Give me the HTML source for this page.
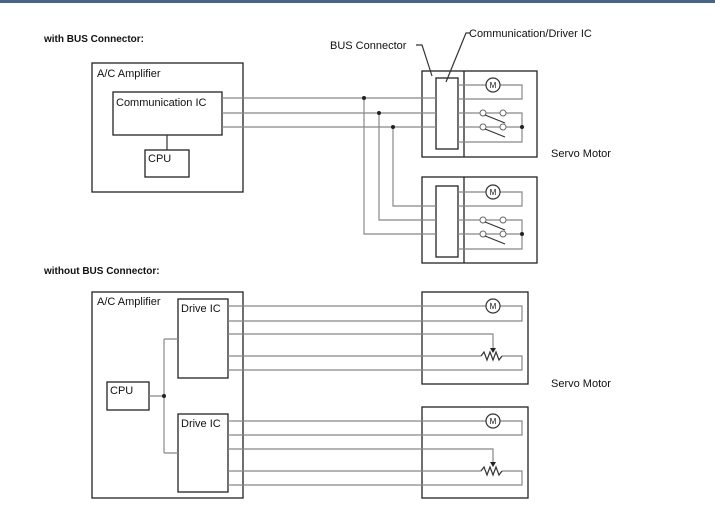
<!DOCTYPE html>
<html><head><meta charset="utf-8"><style>
body{margin:0;background:#fff;width:715px;height:519px;overflow:hidden}
svg{display:block}
text{font-family:"Liberation Sans",sans-serif;font-size:11px;fill:#111}
</style></head><body>
<svg width="715" height="519" viewBox="0 0 715 519">
<rect x="0" y="0" width="715" height="3" fill="#4d6481"/>
<text x="44" y="42" font-weight="bold" style="font-size:10px">with BUS Connector:</text>
<text x="44" y="274" font-weight="bold" style="font-size:10px">without BUS Connector:</text>
<g fill="none" stroke="#222" stroke-width="1.3">
<rect x="92" y="63" width="151" height="129"/>
<rect x="113" y="92" width="109" height="43"/>
<rect x="145" y="150" width="44" height="27"/>
<rect x="422" y="71" width="115" height="86"/>
<line x1="464" y1="71" x2="464" y2="157"/>
<rect x="436" y="78" width="22" height="71"/>
<rect x="422" y="177" width="115" height="86"/>
<line x1="464" y1="177" x2="464" y2="263"/>
<rect x="436" y="186" width="22" height="71"/>
<rect x="92" y="292" width="151" height="206"/>
<rect x="178" y="299" width="50" height="79"/>
<rect x="178" y="414" width="50" height="78"/>
<rect x="107" y="382" width="42" height="28"/>
<rect x="422" y="292" width="106" height="92"/>
<rect x="422" y="407" width="106" height="91"/>
</g>
<g fill="none" stroke="#888" stroke-width="1.2">
<line x1="167" y1="135" x2="167" y2="150" stroke="#333"/>
<path d="M222 98H436M222 113H436M222 127H436"/>
<path d="M364 98V234H436M379 113V220H436M393 127V206H436"/>
<path d="M458 85H486M500 85H522V99H458"/>
<path d="M458 113H480M486 113H500M506 113H522V142H458M458 127H480M486 127H500M506 127H522"/>
<path d="M458 192H486M500 192H522V206H458"/>
<path d="M458 220H480M486 220H500M506 220H522V249H458M458 234H480M486 234H500M506 234H522"/>
<path d="M149 396H164M164 339V453M164 339H178M164 453H178"/>
<path d="M228 306H486M500 306H522V321H228M228 334H493V350M228 356H481M502 356H522V370H228"/>
<path d="M228 421H486M500 421H522V435H228M228 449H493V464M228 471H481M502 471H522V485H228"/>
</g>
<g fill="#fff" stroke="#333" stroke-width="1.2">
<circle cx="493" cy="85" r="7"/><circle cx="493" cy="192" r="7"/>
<circle cx="493" cy="306" r="7"/><circle cx="493" cy="421" r="7"/>
</g>
<g fill="#fff" stroke="#666" stroke-width="1">
<circle cx="483" cy="113" r="3"/><circle cx="503" cy="113" r="3"/>
<circle cx="483" cy="127" r="3"/><circle cx="503" cy="127" r="3"/>
<circle cx="483" cy="220" r="3"/><circle cx="503" cy="220" r="3"/>
<circle cx="483" cy="234" r="3"/><circle cx="503" cy="234" r="3"/>
</g>
<g stroke="#333" stroke-width="1.2" fill="none">
<path d="M485 115L505 123M485 129L505 137M485 222L505 230M485 236L505 244"/>
<path d="M481 356l3-4 3 8 3-8 3 8 3-8 3 8 3-4"/>
<path d="M481 471l3-4 3 8 3-8 3 8 3-8 3 8 3-4"/>
<path d="M416 45H422L432 76M470 33H466L446 82"/>
</g>
<g fill="#222">
<path d="M490 348h6l-3 5z"/><path d="M490 462h6l-3 5z"/>
<circle cx="364" cy="98" r="2"/><circle cx="379" cy="113" r="2"/><circle cx="393" cy="127" r="2"/>
<circle cx="522" cy="127" r="2"/><circle cx="522" cy="234" r="2"/><circle cx="164" cy="396" r="2"/>
</g>
<g style="font-size:8px" text-anchor="middle"><text x="493" y="88" style="font-size:8px">M</text><text x="493" y="195" style="font-size:8px">M</text><text x="493" y="309" style="font-size:8px">M</text><text x="493" y="424" style="font-size:8px">M</text></g>
<text x="97" y="77">A/C Amplifier</text>
<text x="116" y="106">Communication IC</text>
<text x="148" y="162">CPU</text>
<text x="330" y="49">BUS Connector</text>
<text x="469" y="37">Communication/Driver IC</text>
<text x="551" y="157">Servo Motor</text>
<text x="97" y="305">A/C Amplifier</text>
<text x="181" y="312">Drive IC</text>
<text x="181" y="427">Drive IC</text>
<text x="110" y="394">CPU</text>
<text x="551" y="387">Servo Motor</text>
</svg>
</body></html>
